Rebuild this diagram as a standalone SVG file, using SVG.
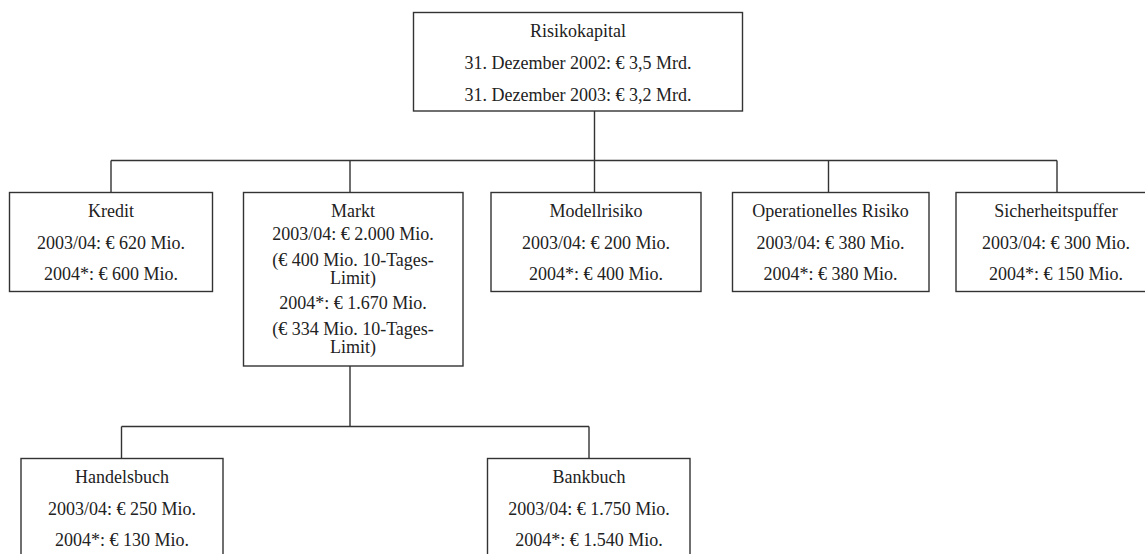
<svg xmlns="http://www.w3.org/2000/svg" width="1145" height="554" viewBox="0 0 1145 554">
<style>
.box{fill:#fff;stroke:#333;stroke-width:1.4}
.ln{fill:none;stroke:#333;stroke-width:1.4}
text{font-family:"Liberation Serif","Times New Roman",serif;font-size:18px;fill:#222;text-anchor:middle}
</style>
<rect width="1145" height="554" fill="#fff"/>
<g id="connectors">
<path class="ln" d="M594.5 111 V160.5 M111 160.5 H1057 M111 160.5 V192 M350 160.5 V192 M594.5 160.5 V192 M828.5 160.5 V192 M1057 160.5 V192"/>
<path class="ln" d="M350 366 V426.5 M121.5 426.5 H589 M121.5 426.5 V458 M589 426.5 V458"/>
</g>
<g id="risikokapital">
<rect class="box" x="413.5" y="12.5" width="329" height="98.5"/>
<text x="578" y="37">Risikokapital</text>
<text x="578" y="69">31. Dezember 2002: € 3,5 Mrd.</text>
<text x="578" y="101">31. Dezember 2003: € 3,2 Mrd.</text>
</g>
<g id="kredit">
<rect class="box" x="9.5" y="192.5" width="203" height="99"/>
<text x="111" y="217">Kredit</text>
<text x="111" y="248.5">2003/04: € 620 Mio.</text>
<text x="111" y="280">2004*: € 600 Mio.</text>
</g>
<g id="markt">
<rect class="box" x="243.5" y="192.5" width="219.5" height="173.5"/>
<text x="353" y="217">Markt</text>
<text x="353" y="240">2003/04: € 2.000 Mio.</text>
<text x="353" y="266">(€ 400 Mio. 10-Tages-</text>
<text x="353" y="284">Limit)</text>
<text x="353" y="309">2004*: € 1.670 Mio.</text>
<text x="353" y="335">(€ 334 Mio. 10-Tages-</text>
<text x="353" y="353">Limit)</text>
</g>
<g id="modellrisiko">
<rect class="box" x="491" y="192.5" width="210" height="99"/>
<text x="596" y="217">Modellrisiko</text>
<text x="596" y="248.5">2003/04: € 200 Mio.</text>
<text x="596" y="280">2004*: € 400 Mio.</text>
</g>
<g id="operationelles">
<rect class="box" x="732.5" y="192.5" width="196.5" height="99"/>
<text x="830.5" y="217">Operationelles Risiko</text>
<text x="830.5" y="248.5">2003/04: € 380 Mio.</text>
<text x="830.5" y="280">2004*: € 380 Mio.</text>
</g>
<g id="sicherheitspuffer">
<rect class="box" x="956" y="192.5" width="202" height="99"/>
<text x="1056" y="217">Sicherheitspuffer</text>
<text x="1056" y="248.5">2003/04: € 300 Mio.</text>
<text x="1056" y="280">2004*: € 150 Mio.</text>
</g>
<g id="handelsbuch">
<rect class="box" x="21" y="458.5" width="202" height="110"/>
<text x="122" y="483">Handelsbuch</text>
<text x="122" y="514.5">2003/04: € 250 Mio.</text>
<text x="122" y="546">2004*: € 130 Mio.</text>
</g>
<g id="bankbuch">
<rect class="box" x="487.5" y="458.5" width="202.5" height="110"/>
<text x="589" y="483">Bankbuch</text>
<text x="589" y="514.5">2003/04: € 1.750 Mio.</text>
<text x="589" y="546">2004*: € 1.540 Mio.</text>
</g>
</svg>
